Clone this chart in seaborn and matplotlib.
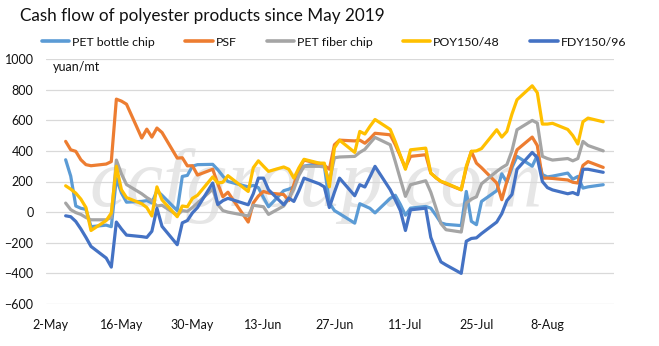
import matplotlib
matplotlib.use("Agg")
import matplotlib.pyplot as plt
import matplotlib.dates as mdates
from matplotlib.lines import Line2D
import pandas as pd
import seaborn as sns

# Trading days (China: May 5 was a make-up working day, Jun 7 Dragon Boat holiday)
dates = [
    "2019-05-05", "2019-05-06", "2019-05-07", "2019-05-08", "2019-05-09", "2019-05-10",
    "2019-05-13", "2019-05-14", "2019-05-15", "2019-05-16", "2019-05-17",
    "2019-05-20", "2019-05-21", "2019-05-22", "2019-05-23", "2019-05-24",
    "2019-05-27", "2019-05-28", "2019-05-29", "2019-05-30", "2019-05-31",
    "2019-06-03", "2019-06-04", "2019-06-05", "2019-06-06",
    "2019-06-10", "2019-06-11", "2019-06-12", "2019-06-13", "2019-06-14",
    "2019-06-17", "2019-06-18", "2019-06-19", "2019-06-20", "2019-06-21",
    "2019-06-24", "2019-06-25", "2019-06-26", "2019-06-27", "2019-06-28",
    "2019-07-01", "2019-07-02", "2019-07-03", "2019-07-04", "2019-07-05",
    "2019-07-08", "2019-07-09", "2019-07-10", "2019-07-11", "2019-07-12",
    "2019-07-15", "2019-07-16", "2019-07-17", "2019-07-18", "2019-07-19",
    "2019-07-22", "2019-07-23", "2019-07-24", "2019-07-25", "2019-07-26",
    "2019-07-29", "2019-07-30", "2019-07-31", "2019-08-01", "2019-08-02",
    "2019-08-05", "2019-08-06", "2019-08-07", "2019-08-08", "2019-08-09",
    "2019-08-12", "2019-08-13", "2019-08-14", "2019-08-15", "2019-08-16",
    "2019-08-19",
]

pet_bottle_chip = [
    342, 235, 40, 25, 18, -95,
    -85, -95, 220, 125, 65,
    70, 75, 60, 140, 110,
    10, 233, 240, 300, 310,
    312, 277, 235, 200,
    165, 175, 160, 95, 35,
    140, 150, 165, 270, 300,
    320, 305, 60, 10, -10,
    -72, 55, 40, 25, -5,
    90, 110, 50, -20, 26,
    37, 26, -20, -70, -80,
    -88, 135, -60, -82, 70,
    140, 250, 195, 290, 364,
    300, 370, 245, 230, 235,
    255, 215, 233, 157, 165,
    179,
]

psf = [
    462, 407, 397, 342, 310, 303,
    314, 330, 738, 725, 705,
    484, 542, 490, 549, 520,
    353, 355, 302, 303, 242,
    280, 185, 100, 130,
    -65, 60, 105, 135, 125,
    115, 75, 180, 280, 340,
    315, 305, 280, 440, 470,
    465, 470, 450, 480, 515,
    505, 440, 365, 290, 364,
    375, 255, 225, 200, 185,
    146, 290, 397, 320, 290,
    190, 81, 200, 310, 407,
    490, 435, 222, 222, 220,
    210, 195, 190, 305, 330,
    292,
]

pet_fiber_chip = [
    59, 16, -3, -15, -35, -50,
    -50, -35, 340, 250, 180,
    120, 95, 75, 40, 45,
    -20, 10, 5, 30, 60,
    150, 50, 10, 0,
    -25, 45, 40, 35, -15,
    40, 90, 150, 240, 299,
    299, 295, 201, 355, 360,
    364, 390, 410, 450, 488,
    440, 330, 215, 103, 179,
    205, 130, 30, -75, -115,
    -130, 60, 85, 100, 185,
    266, 290, 310, 400, 538,
    599, 582, 364, 350, 340,
    350, 335, 350, 462, 435,
    400,
]

poy150_48 = [
    172, 150, 124, 85, 30, -120,
    -55, -6, 300, 146, 95,
    55, 30, -25, 165, 80,
    -30, 40, 35, 90, 110,
    230, 190, 195, 238,
    135, 290, 335, 300, 266,
    295, 280, 222, 290, 345,
    320, 320, 165, 420, 470,
    390, 527, 510, 560, 605,
    540, 460, 370, 280, 407,
    418, 255, 225, 201, 190,
    146, 300, 397, 400, 415,
    538, 490, 527, 640, 734,
    825, 780, 575, 575, 580,
    540, 500, 445, 590, 614,
    590,
]

fdy150_96 = [
    -24, -30, -61, -110, -165, -224,
    -300, -359, -65, -110, -150,
    -160, -165, -125, 25, -93,
    -213, -70, -55, -5, 30,
    190, 50, 75, 90,
    48, 120, 222, 222, 146,
    48, 92, 70, 140, 222,
    185, 165, 30, 130, 222,
    107, 179, 164, 230, 299,
    146, 80, 10, -120, 15,
    26, -165, -250, -325, -345,
    -400, -190, -172, -168, -140,
    -65, -10, 75, 115, 280,
    390, 355, 200, 160, 145,
    120, 128, 114, 280, 280,
    260,
]

series_names = ["PET bottle chip", "PSF", "PET fiber chip", "POY150/48", "FDY150/96"]
series_colors = ["#5B9BD5", "#ED7D31", "#A5A5A5", "#FFC000", "#4472C4"]
y_ticks = [-600, -400, -200, 0, 200, 400, 600, 800, 1000]
x_tick_dates = ["2019-05-02", "2019-05-16", "2019-05-30", "2019-06-13",
                "2019-06-27", "2019-07-11", "2019-07-25", "2019-08-08"]

sns.set_theme(style="white")
plt.rcParams["font.family"] = ["Lato", "DejaVu Sans"]

wide = pd.DataFrame({
    "date": pd.to_datetime(dates),
    "PET bottle chip": pet_bottle_chip,
    "PSF": psf,
    "PET fiber chip": pet_fiber_chip,
    "POY150/48": poy150_48,
    "FDY150/96": fdy150_96,
})
long = wide.melt(id_vars="date", var_name="product", value_name="cash_flow")

W, H = 659, 346
fig = plt.figure(figsize=(W / 100, H / 100), dpi=100)
ax = fig.add_axes([46 / W, 1 - 304 / H, (614 - 46) / W, (304 - 59) / H])

# faint source watermark behind the lines
ax.text(0.475, 0.40, "ccfgroup.com", transform=ax.transAxes, ha="center",
        va="baseline", fontsize=60, family="Liberation Serif", style="italic",
        color="#e6e6e6", zorder=0.5)

sns.lineplot(data=long, x="date", y="cash_flow", hue="product",
             hue_order=series_names, palette=series_colors, linewidth=2.3,
             estimator=None, legend=False, ax=ax, zorder=3)

ax.set_ylim(-600, 1000)
ax.set_yticks(y_ticks)
ax.set_xlim(pd.Timestamp("2019-05-01 03:00"), pd.Timestamp("2019-08-21 03:00"))
ax.set_xticks(pd.to_datetime(x_tick_dates))
ax.xaxis.set_major_formatter(mdates.DateFormatter("%-d-%b"))
ax.set_xlabel("")
ax.set_ylabel("")
ax.grid(False)
ax.yaxis.grid(True, color="#D9D9D9", linewidth=0.9, zorder=0)
ax.set_axisbelow(True)
for sp in ax.spines.values():
    sp.set_visible(False)
ax.tick_params(axis="both", length=0, labelsize=9, labelcolor="#111111")
ax.tick_params(axis="y", pad=9)
ax.tick_params(axis="x", pad=11)

ax.text((53 - 46) / (614 - 46), (304 - 67) / (304 - 59), "yuan/mt",
        transform=ax.transAxes, ha="left", va="center", fontsize=9, color="#111111")

fig.text(20 / W, 1 - 16 / H, "Cash flow of polyester products since May 2019",
         ha="left", va="center", fontsize=12.3, color="#111111")

handles = [Line2D([0], [0], color=c, linewidth=2.6) for c in series_colors]
fig.legend(handles, series_names, loc="center left",
           bbox_to_anchor=(42 / W, 1 - 42 / H), ncol=5, frameon=False,
           fontsize=8.9, handlelength=2.2, handletextpad=0.25,
           columnspacing=2.45, borderpad=0, borderaxespad=0,
           labelcolor="#111111")

fig.savefig("out.png", dpi=100)
